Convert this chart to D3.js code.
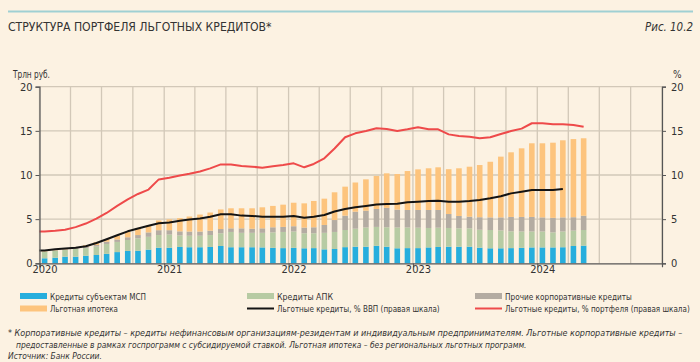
<!DOCTYPE html>
<html>
<head>
<meta charset="utf-8">
<script src="https://cdn.jsdelivr.net/npm/d3@7"></script>
<style>
  html, body { margin: 0; padding: 0; background: #fcf2e2; }
  svg { display: block; }
  text { font-family: "DejaVu Sans Condensed", "Liberation Sans Narrow", "Liberation Sans", sans-serif; fill: #333; }
</style>
</head>
<body>
<svg id="chart" width="700" height="362"></svg>
<script>
// ---------- DATA ----------
const months = [
  "2020-01","2020-02","2020-03","2020-04","2020-05","2020-06","2020-07","2020-08","2020-09","2020-10","2020-11","2020-12",
  "2021-01","2021-02","2021-03","2021-04","2021-05","2021-06","2021-07","2021-08","2021-09","2021-10","2021-11","2021-12",
  "2022-01","2022-02","2022-03","2022-04","2022-05","2022-06","2022-07","2022-08","2022-09","2022-10","2022-11","2022-12",
  "2023-01","2023-02","2023-03","2023-04","2023-05","2023-06","2023-07","2023-08","2023-09","2023-10","2023-11","2023-12",
  "2024-01","2024-02","2024-03","2024-04","2024-05"
];
// Трлн руб.
const smeLoans = [0.57,0.64,0.75,0.75,0.86,0.94,1.07,1.27,1.40,1.42,1.55,1.77,
  1.77,1.85,1.82,1.82,1.85,1.96,1.82,1.82,1.82,1.80,1.75,1.72,
  1.75,1.70,1.72,1.58,1.62,1.83,1.88,1.88,1.98,1.88,1.70,1.72,
  1.72,1.80,1.85,1.88,1.88,1.88,1.77,1.70,1.70,1.72,1.75,1.80,
  1.80,1.80,1.82,1.96,2.00];
const agroLoans = [0.74,0.78,0.75,0.87,0.86,0.96,1.12,1.15,1.24,1.41,1.45,1.43,
  1.48,1.30,1.30,1.30,1.35,1.44,1.73,1.63,1.63,1.65,1.75,1.83,
  1.85,1.70,1.68,1.87,1.93,1.94,2.04,2.17,2.14,2.20,2.35,2.33,
  2.31,2.20,2.18,2.12,2.08,2.08,2.03,2.07,2.02,1.90,1.85,1.80,
  1.80,1.70,1.78,1.74,1.77];
const otherCorp = [0.03,0.05,0.08,0.10,0.13,0.17,0.26,0.28,0.31,0.37,0.50,0.55,
  0.50,0.47,0.48,0.48,0.50,0.48,0.41,0.51,0.47,0.51,0.58,0.57,
  0.60,0.65,0.68,0.89,1.35,1.63,1.93,1.91,2.03,2.20,2.03,1.99,
  2.01,2.04,2.01,1.58,1.40,1.32,1.42,1.43,1.48,1.63,1.65,1.65,
  1.60,1.65,1.60,1.52,1.62];
const mortgage = [0.05,0.08,0.10,0.13,0.20,0.33,0.30,0.45,0.63,0.80,0.78,1.10,
  1.23,1.50,1.70,1.92,2.05,2.22,2.27,2.27,2.31,2.38,2.42,2.52,
  2.66,2.74,2.98,2.98,3.14,3.28,3.30,3.55,3.74,3.91,4.03,4.41,
  4.60,4.72,4.83,5.08,5.40,5.66,5.91,6.30,6.88,7.32,7.77,8.34,
  8.39,8.51,8.73,8.85,8.77];
// %, правая шкала
const pctGDP = [1.45,1.58,1.68,1.76,1.93,2.30,2.72,3.18,3.62,3.95,4.25,4.53,
  4.62,4.82,4.96,5.08,5.28,5.55,5.55,5.40,5.36,5.28,5.28,5.28,
  5.35,5.17,5.28,5.47,5.87,6.15,6.34,6.50,6.66,6.72,6.74,6.91,
  6.98,7.06,7.09,6.98,6.98,7.06,7.17,7.36,7.60,7.92,8.10,8.30,
  8.30,8.30,8.41];
const pctPortfolio = [3.60,3.69,3.80,4.10,4.50,5.05,5.70,6.50,7.25,7.85,8.35,9.50,
  9.70,9.95,10.15,10.40,10.75,11.20,11.20,11.02,10.94,10.83,11.00,11.13,
  11.32,10.87,11.25,11.89,13.00,14.27,14.72,14.98,15.29,15.21,14.98,15.17,
  15.40,15.17,15.17,14.60,14.42,14.34,14.16,14.27,14.64,14.98,15.25,15.86,
  15.86,15.74,15.74,15.66,15.47];
const yTicks = [0, 5, 10, 15, 20];
const yearLabels = ["2020", "2021", "2022", "2023", "2024"];
const seriesKeys = ["sme", "agro", "other", "mortgage"];
const seriesColors = { sme: "#26aedd", agro: "#b7cba3", other: "#b4aca2", mortgage: "#fdc47d" };

// ---------- LAYOUT ----------
const svg = d3.select("#chart");
const W = 700, H = 362;
const plot = { left: 39.5, right: 662, top: 86.7, bottom: 263.3 };

svg.append("rect").attr("width", W).attr("height", H).attr("fill", "#fcf2e2");

// narrow a text horizontally to the reference width (condensed face emulation)
function fitText(sel, widthFn) {
  sel.each(function (d) {
    const w = typeof widthFn === "function" ? widthFn(d) : widthFn;
    const len = this.getComputedTextLength();
    const x0 = +this.getAttribute("x"), y0 = +this.getAttribute("y");
    const k = Math.min(1, w / len);
    this.setAttribute("x", 0);
    this.setAttribute("y", 0);
    this.setAttribute("transform", `translate(${x0},${y0}) scale(${k},1)`);
  });
  return sel;
}

// header
svg.append("line").attr("x1", 8).attr("x2", 693).attr("y1", 11.5).attr("y2", 11.5)
  .attr("stroke", "#9fd0d3").attr("stroke-width", 2);
fitText(svg.append("text").attr("x", 8).attr("y", 31).attr("font-size", 13)
  .text("СТРУКТУРА ПОРТФЕЛЯ ЛЬГОТНЫХ КРЕДИТОВ*"), 264);
fitText(svg.append("text").attr("x", 645).attr("y", 31).attr("font-size", 13)
  .attr("font-style", "italic").text("Рис. 10.2"), 48);

// scales
const parse = d3.timeParse("%Y-%m");
const monthDates = months.map(parse);
const x = d3.scaleTime().domain([new Date(2020, 0, 1), new Date(2025, 0, 1)])
  .range([plot.left, plot.right]);
const mid = d => d3.timeDay.offset(d, 15);
const y = d3.scaleLinear().domain([0, 20]).range([plot.bottom, plot.top]);

// grid
const grid = svg.append("g");
const quarters = d3.timeMonth.every(3).range(new Date(2020, 0, 1), new Date(2025, 0, 2));
grid.selectAll("line.v").data(quarters).join("line")
  .attr("x1", d => x(d)).attr("x2", d => x(d))
  .attr("y1", plot.top).attr("y2", plot.bottom)
  .attr("stroke", "#d2c8b8").attr("stroke-width", 1.3);
grid.selectAll("line.h").data(yTicks.filter(v => v > 0)).join("line")
  .attr("x1", plot.left).attr("x2", plot.right)
  .attr("y1", d => y(d)).attr("y2", d => y(d))
  .attr("stroke", "#d2c8b8").attr("stroke-width", 1.3);

// stacked bars
const rows = months.map((m, i) => ({
  date: monthDates[i], sme: smeLoans[i], agro: agroLoans[i], other: otherCorp[i], mortgage: mortgage[i]
}));
const stack = d3.stack().keys(seriesKeys)(rows);
const barW = 5.6;
svg.append("g").selectAll("g").data(stack).join("g")
  .attr("fill", s => seriesColors[s.key])
  .selectAll("rect").data(s => s).join("rect")
  .attr("x", d => x(mid(d.data.date)) - barW / 2)
  .attr("width", barW)
  .attr("y", d => y(d[1]))
  .attr("height", d => y(d[0]) - y(d[1]));

// lines
const lineGen = d3.line().x(d => d[0]).y(d => y(d[1]));
function linePoints(vals) {
  const pts = vals.map((v, i) => [x(mid(monthDates[i])), v]);
  pts.unshift([x(monthDates[0]), vals[0]]);
  return pts;
}
svg.append("path").attr("d", lineGen(linePoints(pctPortfolio)))
  .attr("fill", "none").attr("stroke", "#ee4a4a").attr("stroke-width", 2).attr("stroke-linejoin", "round");
svg.append("path").attr("d", lineGen(linePoints(pctGDP)))
  .attr("fill", "none").attr("stroke", "#141414").attr("stroke-width", 2).attr("stroke-linejoin", "round");

// axes
const axisColor = "#555";
const leftAxis = svg.append("g").attr("transform", `translate(${plot.left},0)`)
  .call(d3.axisLeft(y).tickValues(yTicks).tickSize(4).tickPadding(3));
const rightAxis = svg.append("g").attr("transform", `translate(${plot.right},0)`)
  .call(d3.axisRight(y).tickValues(yTicks).tickSize(4).tickPadding(5));
[leftAxis, rightAxis].forEach(g => {
  g.select(".domain").attr("stroke", axisColor).attr("stroke-width", 1.2);
  g.selectAll(".tick line").attr("stroke", axisColor);
  g.selectAll(".tick text").attr("font-size", 11).attr("fill", "#333")
    .attr("font-family", "DejaVu Sans Condensed, sans-serif");
});
const yearDates = yearLabels.map(s => new Date(+s, 0, 1));
const bottom = svg.append("g").attr("transform", `translate(0,${plot.bottom})`)
  .call(d3.axisBottom(x).tickValues(yearDates).tickSize(4).tickFormat((d, i) => yearLabels[i]));
bottom.select(".domain").attr("stroke", axisColor).attr("stroke-width", 1.2);
bottom.selectAll(".tick line").attr("stroke", axisColor);
bottom.selectAll(".tick text").attr("font-size", 11).attr("fill", "#333").attr("dx", 5).attr("dy", 3)
  .attr("font-family", "DejaVu Sans Condensed, sans-serif");

fitText(svg.append("text").attr("x", 13).attr("y", 78).attr("font-size", 10).text("Трлн руб."), 37);
svg.append("text").attr("x", 673).attr("y", 78).attr("font-size", 10).text("%");

// legend
const legendItems = [
  { label: "Кредиты субъектам МСП", type: "rect", color: seriesColors.sme, x: 20, row: 0, w: 96 },
  { label: "Кредиты АПК", type: "rect", color: seriesColors.agro, x: 247, row: 0, w: 56 },
  { label: "Прочие корпоративные кредиты", type: "rect", color: seriesColors.other, x: 475, row: 0, w: 127 },
  { label: "Льготная ипотека", type: "rect", color: seriesColors.mortgage, x: 20, row: 1, w: 68 },
  { label: "Льготные кредиты, % ВВП (правая шкала)", type: "line", color: "#141414", x: 247, row: 1, w: 163 },
  { label: "Льготные кредиты, % портфеля (правая шкала)", type: "line", color: "#ee4a4a", x: 475, row: 1, w: 185 }
];
const lg = svg.append("g").selectAll("g").data(legendItems).join("g")
  .attr("transform", d => `translate(${d.x},${296 + d.row * 12.5})`);
lg.filter(d => d.type === "rect").append("rect")
  .attr("x", 0).attr("y", -3).attr("width", 27).attr("height", 6).attr("fill", d => d.color);
lg.filter(d => d.type === "line").append("line")
  .attr("x1", 0).attr("x2", 27).attr("y1", 0).attr("y2", 0)
  .attr("stroke", d => d.color).attr("stroke-width", 2);
fitText(lg.append("text").attr("x", 30).attr("y", 3.5).attr("font-size", 9.5)
  .text(d => d.label), d => d.w);

// footnotes
const notes = [
  { t: "* Корпоративные кредиты – кредиты нефинансовым организациям-резидентам и индивидуальным предпринимателям. Льготные корпоративные кредиты –", x: 8, y: 336, w: 675 },
  { t: "предоставленные в рамках госпрограмм с субсидируемой ставкой. Льготная ипотека – без региональных льготных программ.", x: 16, y: 347.5, w: 511 },
  { t: "Источник: Банк России.", x: 8, y: 359, w: 94 }
];
fitText(svg.append("g").selectAll("text").data(notes).join("text")
  .attr("x", d => d.x).attr("y", d => d.y).attr("font-size", 9.5).attr("font-style", "italic")
  .text(d => d.t), d => d.w);
</script>
</body>
</html>
